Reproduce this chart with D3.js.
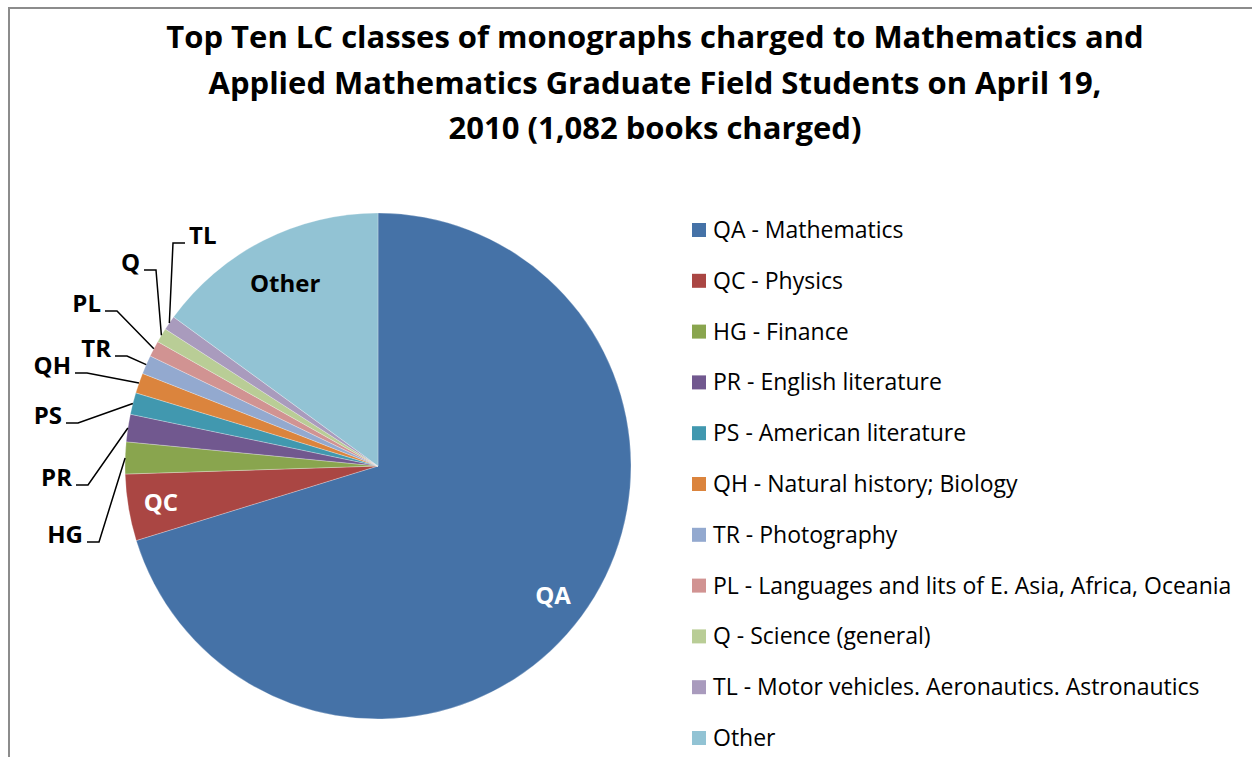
<!DOCTYPE html>
<html>
<head>
<meta charset="utf-8">
<script src="https://cdn.jsdelivr.net/npm/d3@7"></script>
<style>
  body { margin: 0; background: #fff; }
  text { font-family: "Open Sans", Lato, sans-serif; font-variant-ligatures: none; }
</style>
</head>
<body>
<div id="chart"></div>
<script>
// datos del grafico (libros prestados por clase LC)
const codes = ['QA', 'QC', 'HG', 'PR', 'PS', 'QH', 'TR', 'PL', 'Q', 'TL', 'Other'];
const names = ['QA - Mathematics', 'QC - Physics', 'HG - Finance', 'PR - English literature',
  'PS - American literature', 'QH - Natural history; Biology', 'TR - Photography',
  'PL - Languages and lits of E. Asia, Africa, Oceania', 'Q - Science (general)',
  'TL - Motor vehicles. Aeronautics. Astronautics', 'Other'];
const books = [760, 46, 22, 19, 15, 14, 13, 11, 10, 10, 162];
const titleLines = ['Top Ten LC classes of monographs charged to Mathematics and',
  'Applied Mathematics Graduate Field Students on April 19,',
  '2010 (1,082 books charged)'];

const colors = ['#4572A7', '#AA4643', '#89A54E', '#71588F', '#4198AF', '#DB843D',
  '#93A9CF', '#D19392', '#B9CD96', '#A99BBD', '#92C3D4'];

const svgWidth = 1252;
const svgHeight = 757;
const cx = 378, cy = 466, radius = 253;

const svg = d3.select('#chart')
  .append('svg')
  .attr('width', svgWidth)
  .attr('height', svgHeight);

// marco del area del grafico
svg.append('path')
  .attr('d', `M9,${svgHeight} V8 H${svgWidth}`)
  .attr('fill', 'none')
  .attr('stroke', '#8c8c8c')
  .attr('stroke-width', 2);

// titulo
svg.append('g').selectAll('text')
  .data(titleLines)
  .enter().append('text')
  .attr('x', 655)
  .attr('y', (d, i) => 48 + i * 45.5)
  .attr('text-anchor', 'middle')
  .style('font-size', '31px')
  .style('font-weight', 'bold')
  .text(d => d);

const color = d3.scaleOrdinal().domain(codes).range(colors);

const pie = d3.pie().sort(null).value(d => d.value);
const arcs = pie(codes.map((c, i) => ({ code: c, value: books[i] })));

const arc = d3.arc().innerRadius(0).outerRadius(radius);
const rimArc = d3.arc().innerRadius(radius).outerRadius(radius);

const g = svg.append('g').attr('transform', `translate(${cx},${cy})`);

g.selectAll('.slice')
  .data(arcs)
  .enter().append('path')
  .attr('class', 'slice')
  .attr('d', arc)
  .attr('fill', d => color(d.data.code))
  .attr('stroke', 'rgba(255,255,255,0.45)')
  .attr('stroke-width', 0.6);

// etiquetas dentro de la torta (color, radio relativo)
const inside = { QA: ['#fff', 0.86], QC: ['#fff', 0.87], Other: ['#000', 0.81] };
g.selectAll('.inlabel')
  .data(arcs.filter(d => inside[d.data.code]))
  .enter().append('text')
  .attr('class', 'inlabel')
  .attr('transform', d => {
    const r = radius * inside[d.data.code][1];
    return `translate(${d3.arc().innerRadius(r).outerRadius(r).centroid(d)})`;
  })
  .attr('text-anchor', 'middle')
  .attr('dy', '0.36em')
  .style('font-size', '24px')
  .style('font-weight', 'bold')
  .attr('fill', d => inside[d.data.code][0])
  .text(d => d.data.code);

// etiquetas externas con lineas guia (codo de la linea, lado del texto)
const elbows = {
  TL: [173, 243, 1], Q: [156, 270, -1], PL: [117, 311, -1], TR: [127, 356, -1],
  QH: [87, 373, -1], PS: [78, 423, -1], PR: [88, 485, -1], HG: [99, 542, -1]
};
const outside = arcs.filter(d => elbows[d.data.code]);

svg.append('g').selectAll('path')
  .data(outside)
  .enter().append('path')
  .attr('fill', 'none')
  .attr('stroke', '#000')
  .attr('stroke-width', 1.5)
  .attr('d', d => {
    const [ex, ey, side] = elbows[d.data.code];
    const [rx, ry] = rimArc.centroid(d);
    return `M${cx + rx},${cy + ry} L${ex},${ey} H${ex + side * 12}`;
  });

svg.append('g').selectAll('text')
  .data(outside)
  .enter().append('text')
  .attr('x', d => { const e = elbows[d.data.code]; return e[0] + e[2] * 16; })
  .attr('y', d => elbows[d.data.code][1] + 1)
  .attr('text-anchor', d => elbows[d.data.code][2] > 0 ? 'start' : 'end')
  .style('font-size', '24px')
  .style('font-weight', 'bold')
  .text(d => d.data.code);

// leyenda
const legend = svg.append('g').selectAll('g')
  .data(codes)
  .enter().append('g')
  .attr('transform', (d, i) => `translate(692,${230 + i * 50.8})`);

legend.append('rect')
  .attr('x', 0)
  .attr('y', -7)
  .attr('width', 14)
  .attr('height', 14)
  .attr('fill', d => color(d));

legend.append('text')
  .attr('x', 21)
  .attr('y', 8)
  .style('font-size', '23px')
  .text((d, i) => names[i]);
</script>
</body>
</html>
